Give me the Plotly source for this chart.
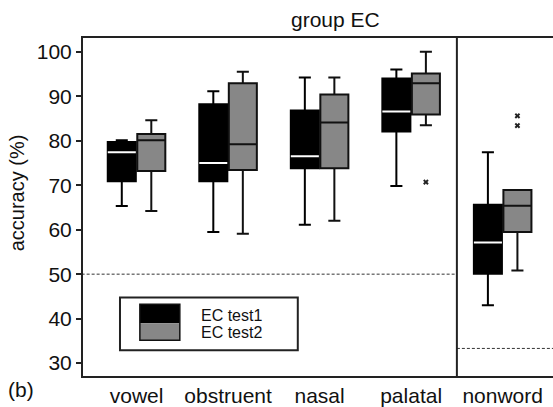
import plotly.graph_objects as go

categories = ["vowel", "obstruent", "nasal", "palatal", "nonword"]

# test1 (black) statistics
t1_q1 = [70.9, 70.9, 73.8, 82.1, 50.1]
t1_med = [77.4, 75.0, 76.5, 86.6, 57.1]
t1_q3 = [79.7, 88.2, 86.8, 94.0, 65.6]
t1_lo = [65.3, 59.5, 61.1, 69.8, 43.0]
t1_hi = [80.1, 91.1, 94.2, 96.0, 77.4]

# test2 (gray) statistics
t2_q1 = [73.2, 73.4, 73.8, 85.9, 59.5]
t2_med = [80.1, 79.2, 84.1, 92.9, 65.4]
t2_q3 = [81.5, 92.9, 90.4, 95.1, 68.9]
t2_lo = [64.2, 59.1, 62.0, 83.5, 50.8]
t2_hi = [84.6, 95.5, 94.2, 100.0, 68.9]

# test2 outliers
out_cat = ["palatal", "nonword", "nonword"]
out_val = [70.7, 85.6, 83.4]

# chance levels
chance_words = 50
chance_nonword = 33.3

ytick_vals = [30, 40, 50, 60, 70, 80, 90, 100]

FRAME = "#222222"
GRAY = "#878787"
FONT = "Liberation Sans, Arial, sans-serif"

fig = go.Figure()

fig.add_trace(go.Box(
    x=categories, q1=t1_q1, median=t1_med, q3=t1_q3,
    lowerfence=t1_lo, upperfence=t1_hi,
    fillcolor="#000000", line=dict(color="#000000", width=2),
    whiskerwidth=0.43, offsetgroup="1", boxpoints=False, name="EC test1",
))
# white median lines for the black boxes
fig.add_trace(go.Box(
    x=categories, q1=t1_med, median=t1_med, q3=t1_med,
    lowerfence=t1_med, upperfence=t1_med,
    fillcolor="#ffffff", line=dict(color="#ffffff", width=2),
    whiskerwidth=0, offsetgroup="1", boxpoints=False, name="median1",
))
fig.add_trace(go.Box(
    x=categories, q1=t2_q1, median=t2_med, q3=t2_q3,
    lowerfence=t2_lo, upperfence=t2_hi,
    fillcolor=GRAY, line=dict(color="#111111", width=2),
    whiskerwidth=0.43, offsetgroup="2", boxpoints=False, name="EC test2",
))
fig.add_trace(go.Box(
    x=out_cat, y=out_val, boxpoints="all", jitter=0, pointpos=0,
    fillcolor="rgba(0,0,0,0)", line=dict(color="rgba(0,0,0,0)", width=0),
    marker=dict(symbol="x", size=5, color="#222222"),
    offsetgroup="2", name="outliers",
))

# chance-level dashed lines and panel divider
fig.add_shape(type="line", xref="x", yref="y", x0=-0.6, x1=3.5,
              y0=chance_words, y1=chance_words,
              line=dict(color="#333333", width=1, dash="3px,2px"))
fig.add_shape(type="line", xref="x", yref="y", x0=3.5, x1=4.6,
              y0=chance_nonword, y1=chance_nonword,
              line=dict(color="#333333", width=1, dash="3px,2px"))
fig.add_shape(type="line", xref="x", yref="paper", x0=3.5, x1=3.5,
              y0=0, y1=1, line=dict(color=FRAME, width=2))

# custom legend
fig.add_shape(type="rect", xref="paper", yref="paper", x0=0.0787, x1=0.457,
              y0=0.0765, y1=0.232, line=dict(color=FRAME, width=2),
              fillcolor="white")
fig.add_shape(type="rect", xref="paper", yref="paper", x0=0.121, x1=0.206,
              y0=0.156, y1=0.212, line=dict(width=0), fillcolor="#000000")
fig.add_shape(type="rect", xref="paper", yref="paper", x0=0.121, x1=0.206,
              y0=0.106, y1=0.156, line=dict(width=0), fillcolor=GRAY)
fig.add_shape(type="rect", xref="paper", yref="paper", x0=0.121, x1=0.206,
              y0=0.106, y1=0.212, line=dict(color="#111111", width=1.5))
fig.add_annotation(text="EC test1", xref="paper", yref="paper", x=0.247, y=0.178,
                   xanchor="left", yanchor="middle", showarrow=False,
                   font=dict(size=16, color="#111111", family=FONT))
fig.add_annotation(text="EC test2", xref="paper", yref="paper", x=0.247, y=0.130,
                   xanchor="left", yanchor="middle", showarrow=False,
                   font=dict(size=16, color="#111111", family=FONT))

fig.add_annotation(text="group EC", xref="paper", yref="paper", x=0.538, y=1.055,
                   xanchor="center", yanchor="middle", showarrow=False,
                   font=dict(size=21, color="#111111", family=FONT))
fig.add_annotation(text="(b)", xref="paper", yref="paper", x=-0.132, y=-0.04,
                   xanchor="center", yanchor="middle", showarrow=False,
                   font=dict(size=21, color="#111111", family=FONT))
fig.add_annotation(text="accuracy (%)", xref="paper", yref="paper", x=-0.14, y=0.541,
                   xanchor="center", yanchor="middle", showarrow=False, textangle=-90,
                   font=dict(size=20, color="#111111", family=FONT))

fig.update_layout(
    width=553, height=407,
    margin=dict(l=83, r=0, t=38, b=29),
    paper_bgcolor="white", plot_bgcolor="white",
    boxmode="group", boxgap=0.355, boxgroupgap=0.05,
    showlegend=False,
    font=dict(family=FONT, color="#111111"),
    xaxis=dict(
        type="category", categoryorder="array", categoryarray=categories,
        range=[-0.585, 4.55], showgrid=False, zeroline=False,
        showline=True, mirror=True, linecolor=FRAME, linewidth=2,
        ticks="", tickfont=dict(size=21, color="#111111"),
    ),
    yaxis=dict(
        range=[27.1, 103.1], tickvals=ytick_vals, showgrid=False, zeroline=False,
        showline=True, linecolor=FRAME, linewidth=2,
        ticks="outside", ticklen=5, tickwidth=1.5, tickcolor=FRAME,
        tickfont=dict(size=21, color="#111111"),
    ),
)

fig.write_html("out.html")
